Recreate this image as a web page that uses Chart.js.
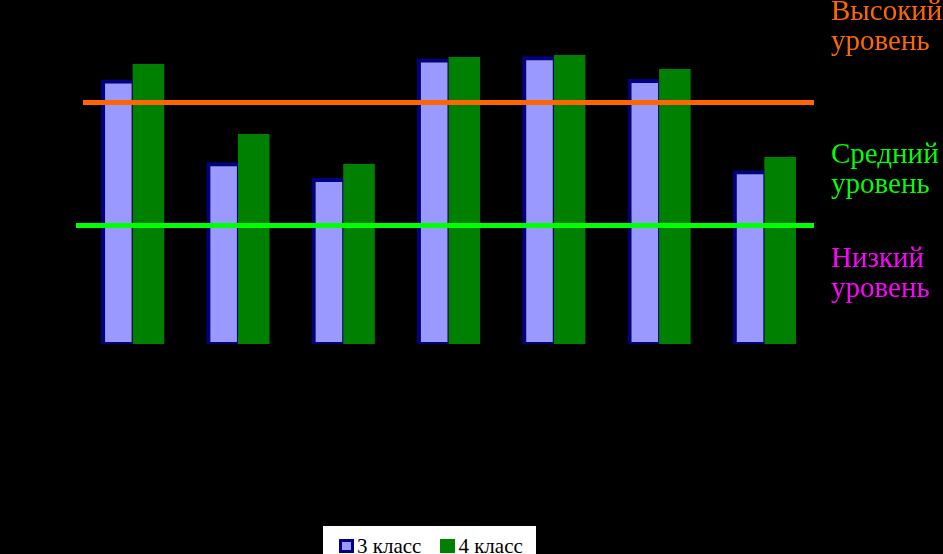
<!DOCTYPE html>
<html>
<head>
<meta charset="utf-8">
<script src="https://cdn.jsdelivr.net/npm/chart.js@4"></script>
<style>
  html, body { margin: 0; padding: 0; background: #000; }
  #wrap { position: relative; width: 943px; height: 554px; overflow: hidden; }
  #chart { position: absolute; left: 0; top: 0; }
  .level { position: absolute; left: 831px; font-family: "Liberation Serif", "Times New Roman", serif; font-size: 29px; line-height: 30px; white-space: nowrap; }
  #legend { position: absolute; left: 323px; top: 526px; width: 213px; height: 40px; background: #fff; display: flex; align-items: flex-start; padding: 10px 0 0 16px; box-sizing: border-box; font-family: "Liberation Serif", "Times New Roman", serif; font-size: 21px; line-height: 21px; color: #000; white-space: nowrap; }
  #legend .item { display: flex; align-items: flex-start; margin-right: 19px; flex: none; }
  #legend .box { width: 15px; height: 14px; margin-top: 3px; box-sizing: border-box; flex: none; }
  #legend .txt { margin-left: 3px; }
</style>
</head>
<body>
<div id="wrap">
  <canvas id="chart" width="943" height="554"></canvas>
  <div id="levels"></div>
  <div id="legend"></div>
</div>
<script>
const categories = ["1", "2", "3", "4", "5", "6", "7"];
const seriesNames = ["3 класс", "4 класс"];
const class3 = [88.2, 60.6, 55.3, 95.2, 95.9, 88.3, 57.9];
const class4 = [93.3, 70, 60, 95.7, 96.3, 91.7, 62.3];
const levelNames = ["Высокий уровень", "Средний уровень", "Низкий уровень"];
const levelValues = [80.5, 39.5];   // borders: high / medium
const yMax = 100;

const levelColors = ["#FF6600", "#00FF00", "#FF00FF"];

// horizontal level lines, placed with the y scale
const levelLines = {
  id: "levelLines",
  afterDatasetsDraw(chart) {
    const { ctx, chartArea, scales } = chart;
    const starts = [chartArea.left + 3, chartArea.left - 4];
    ctx.save();
    ctx.lineWidth = 5;
    levelValues.forEach((v, i) => {
      const y = scales.y.getPixelForValue(v);
      ctx.strokeStyle = levelColors[i];
      ctx.beginPath();
      ctx.moveTo(starts[i], y);
      ctx.lineTo(chartArea.right - 3, y);
      ctx.stroke();
    });
    ctx.restore();
  }
};

const ctx = document.getElementById("chart");

const chart = new Chart(ctx, {
  type: "bar",
  data: {
    labels: categories,
    datasets: [
      {
        label: seriesNames[0],
        data: class3,
        backgroundColor: "#9999FF",
        borderColor: "#000080",
        borderWidth: { top: 4, left: 4, right: 1, bottom: 2 },
        borderSkipped: false
      },
      {
        label: seriesNames[1],
        data: class4,
        backgroundColor: "#008000",
        borderWidth: 0
      }
    ]
  },
  options: {
    responsive: false,
    animation: false,
    layout: { padding: { left: 80, right: 126, top: 44, bottom: 210 } },
    categoryPercentage: 0.6,
    barPercentage: 1.0,
    scales: {
      x: { display: false },
      y: { display: false, min: 0, max: yMax }
    },
    plugins: {
      legend: { display: false },
      tooltip: { enabled: false }
    }
  },
  plugins: [levelLines]
});

// level captions on the right
const levelTops = [-5, 138, 242];
const levelsDiv = document.getElementById("levels");
levelNames.forEach((name, i) => {
  const d = document.createElement("div");
  d.className = "level";
  d.style.top = levelTops[i] + "px";
  d.style.color = levelColors[i];
  d.innerHTML = name.split(" ").join("<br>");
  levelsDiv.appendChild(d);
});

// legend from the bar datasets
const legend = document.getElementById("legend");
chart.data.datasets.forEach(ds => {
  const item = document.createElement("div");
  item.className = "item";
  const box = document.createElement("div");
  box.className = "box";
  box.style.background = ds.backgroundColor;
  if (ds.borderColor) box.style.border = "3px solid " + ds.borderColor;
  const txt = document.createElement("span");
  txt.className = "txt";
  txt.textContent = ds.label;
  item.appendChild(box);
  item.appendChild(txt);
  legend.appendChild(item);
});
</script>
</body>
</html>
